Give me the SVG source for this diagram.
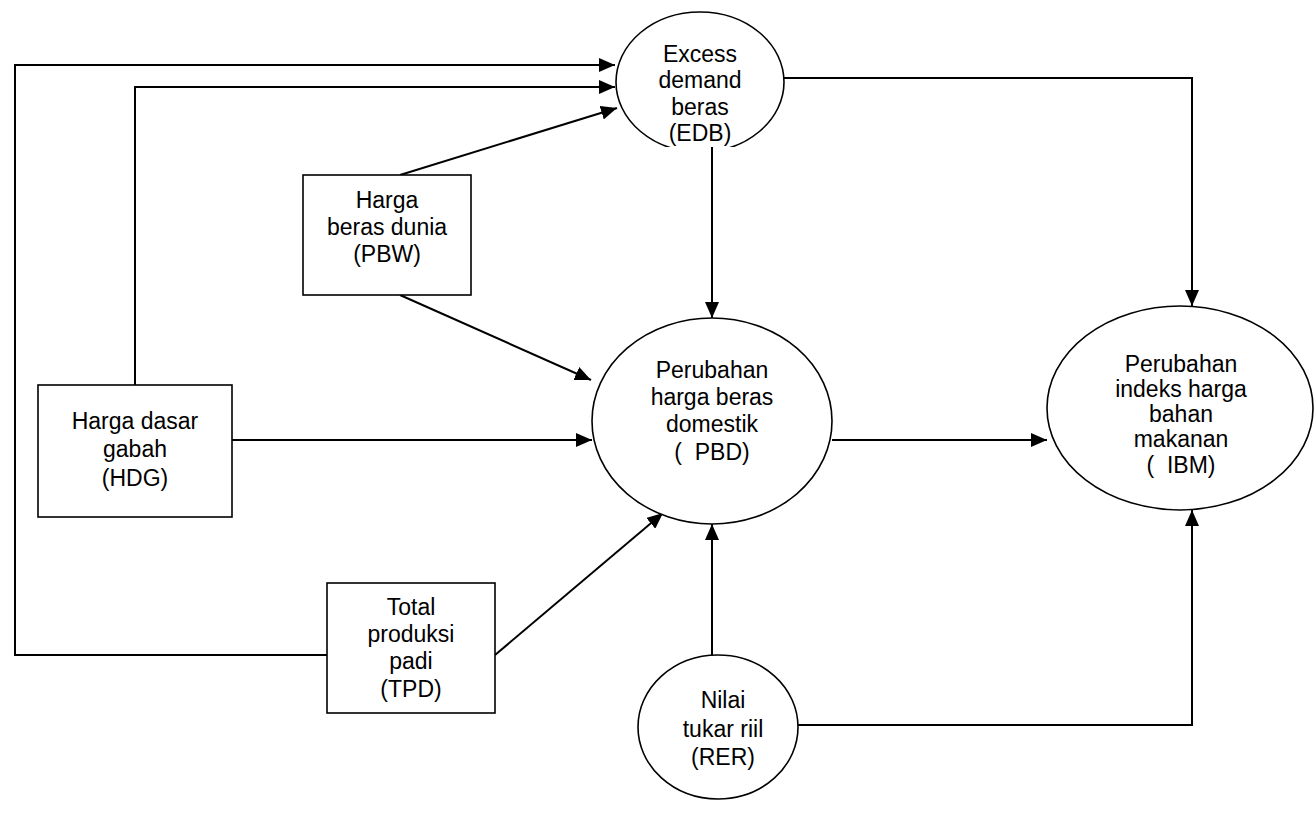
<svg xmlns="http://www.w3.org/2000/svg" width="1316" height="823" viewBox="0 0 1316 823">
<style>
.node{fill:#fff;stroke:#000;stroke-width:1.6}
.lbl{font-family:"Liberation Sans",Arial,sans-serif;font-size:23px;fill:#000;text-anchor:middle}
.con{fill:none;stroke:#000;stroke-width:2}
.arr{marker-end:url(#ah)}
</style>
<defs>
<marker id="ah" markerUnits="userSpaceOnUse" markerWidth="16" markerHeight="14" viewBox="0 0 16 14" refX="16" refY="7" orient="auto">
<path d="M0,0 L16,7 L0,14 Z" fill="#000"/>
</marker>
<clipPath id="edbclip"><rect x="0" y="0" width="1316" height="147"/></clipPath>
</defs>
<rect width="1316" height="823" fill="#fff"/>
<g id="connectors">
<polyline class="con arr" points="327,655 15,655 15,65 615,65"/>
<polyline class="con arr" points="135,385 135,87 615,87"/>
<line class="con arr" x1="400" y1="175" x2="617" y2="108"/>
<line class="con arr" x1="400" y1="295" x2="591" y2="380"/>
<line class="con arr" x1="232" y1="440" x2="592" y2="440"/>
<line class="con arr" x1="712" y1="147" x2="712" y2="318"/>
<polyline class="con arr" points="784,78 1192,78 1192,306"/>
<line class="con arr" x1="832" y1="440" x2="1047" y2="440"/>
<line class="con arr" x1="495" y1="655" x2="663" y2="513"/>
<line class="con arr" x1="712" y1="655" x2="712" y2="524"/>
<polyline class="con arr" points="798,725 1192,725 1192,510"/>
</g>
<g id="EDB" clip-path="url(#edbclip)">
<ellipse class="node" cx="700" cy="82" rx="84" ry="70"/>
<text class="lbl" x="700" y="62">Excess</text>
<text class="lbl" x="700" y="88">demand</text>
<text class="lbl" x="700" y="115">beras</text>
<text class="lbl" x="700" y="141">(EDB)</text>
</g>
<g id="PBW">
<rect class="node" x="303" y="175" width="168" height="120"/>
<text class="lbl" x="387" y="208">Harga</text>
<text class="lbl" x="387" y="235">beras dunia</text>
<text class="lbl" x="387" y="262">(PBW)</text>
</g>
<g id="HDG">
<rect class="node" x="38" y="385" width="194" height="132"/>
<text class="lbl" x="135" y="429">Harga dasar</text>
<text class="lbl" x="135" y="457">gabah</text>
<text class="lbl" x="135" y="486">(HDG)</text>
</g>
<g id="PBD">
<ellipse class="node" cx="712" cy="421" rx="120" ry="103"/>
<text class="lbl" x="712" y="378">Perubahan</text>
<text class="lbl" x="712" y="405">harga beras</text>
<text class="lbl" x="712" y="432">domestik</text>
<text class="lbl" x="712" y="460" xml:space="preserve">(  PBD)</text>
</g>
<g id="IBM">
<ellipse class="node" cx="1180" cy="408" rx="133" ry="102"/>
<text class="lbl" x="1181" y="372">Perubahan</text>
<text class="lbl" x="1181" y="397">indeks harga</text>
<text class="lbl" x="1181" y="422">bahan</text>
<text class="lbl" x="1181" y="447">makanan</text>
<text class="lbl" x="1181" y="473" xml:space="preserve">(  IBM)</text>
</g>
<g id="TPD">
<rect class="node" x="327" y="583" width="168" height="130"/>
<text class="lbl" x="411" y="615">Total</text>
<text class="lbl" x="411" y="642">produksi</text>
<text class="lbl" x="411" y="669">padi</text>
<text class="lbl" x="411" y="697">(TPD)</text>
</g>
<g id="RER">
<ellipse class="node" cx="718" cy="727" rx="80" ry="72"/>
<text class="lbl" x="723" y="708">Nilai</text>
<text class="lbl" x="723" y="737">tukar riil</text>
<text class="lbl" x="723" y="765">(RER)</text>
</g>
</svg>
